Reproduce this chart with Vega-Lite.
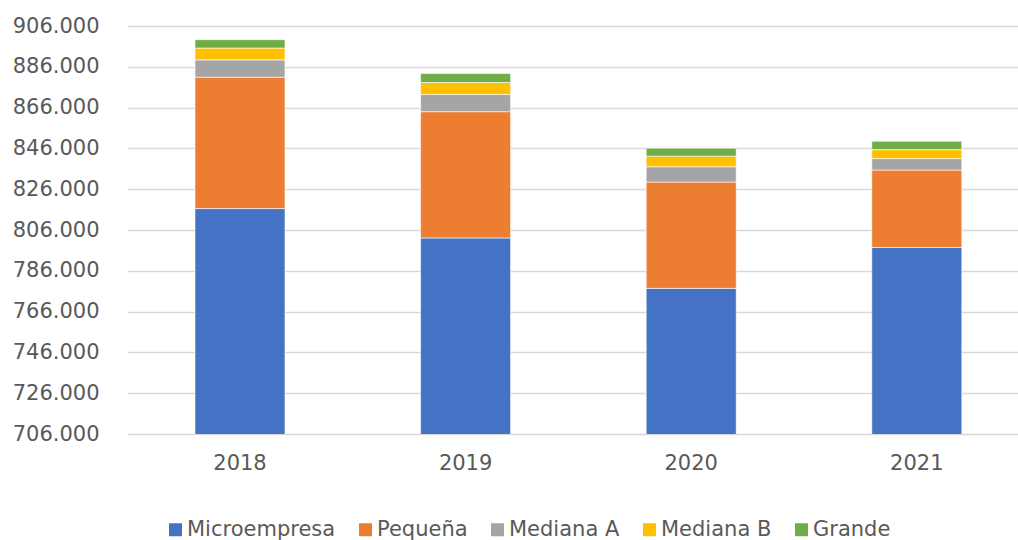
{
  "$schema": "https://vega.github.io/schema/vega-lite/v6.json",
  "width": 891,
  "height": 408,
  "autosize": {"type": "none"},
  "padding": {"left": 127, "top": 26, "right": 0, "bottom": 106},
  "background": "white",
  "config": {
    "locale": {"number": {"decimal": ",", "thousands": ".", "grouping": [3], "currency": ["$", ""]}},
    "view": {"stroke": null},
    "font": "DejaVu Sans"
  },
  "data": {
    "values": [
      {"year": "2018", "tipo": "Microempresa", "ord": 1, "valor": 816500},
      {"year": "2018", "tipo": "Pequeña", "ord": 2, "valor": 64400},
      {"year": "2018", "tipo": "Mediana A", "ord": 3, "valor": 8500},
      {"year": "2018", "tipo": "Mediana B", "ord": 4, "valor": 5800},
      {"year": "2018", "tipo": "Grande", "ord": 5, "valor": 4100},
      {"year": "2019", "tipo": "Microempresa", "ord": 1, "valor": 802100},
      {"year": "2019", "tipo": "Pequeña", "ord": 2, "valor": 61900},
      {"year": "2019", "tipo": "Mediana A", "ord": 3, "valor": 8400},
      {"year": "2019", "tipo": "Mediana B", "ord": 4, "valor": 5900},
      {"year": "2019", "tipo": "Grande", "ord": 5, "valor": 4400},
      {"year": "2020", "tipo": "Microempresa", "ord": 1, "valor": 777400},
      {"year": "2020", "tipo": "Pequeña", "ord": 2, "valor": 52100},
      {"year": "2020", "tipo": "Mediana A", "ord": 3, "valor": 7500},
      {"year": "2020", "tipo": "Mediana B", "ord": 4, "valor": 5200},
      {"year": "2020", "tipo": "Grande", "ord": 5, "valor": 3900},
      {"year": "2021", "tipo": "Microempresa", "ord": 1, "valor": 797400},
      {"year": "2021", "tipo": "Pequeña", "ord": 2, "valor": 38000},
      {"year": "2021", "tipo": "Mediana A", "ord": 3, "valor": 5600},
      {"year": "2021", "tipo": "Mediana B", "ord": 4, "valor": 4400},
      {"year": "2021", "tipo": "Grande", "ord": 5, "valor": 4100}
    ]
  },
  "mark": {"type": "bar", "clip": true, "stroke": "white", "strokeWidth": 0.6},
  "encoding": {
    "x": {
      "field": "year", "type": "nominal", "title": null,
      "scale": {"paddingInner": 0.601, "paddingOuter": 0.2752, "align": 0.5475},
      "axis": {"labelAngle": 0, "ticks": false, "domain": false, "labelFontSize": 21, "labelColor": "#595959", "labelPadding": 18, "labelFont": "DejaVu Sans"}
    },
    "y": {
      "field": "valor", "type": "quantitative", "title": null, "stack": "zero",
      "scale": {"domain": [706000, 906000], "zero": false, "nice": false},
      "axis": {
        "values": [706000, 726000, 746000, 766000, 786000, 806000, 826000, 846000, 866000, 886000, 906000],
        "format": ",.0f", "ticks": false, "domain": false,
        "labelFontSize": 21, "labelColor": "#595959", "labelPadding": 28,
        "gridColor": "#d9d9d9", "gridWidth": 1.5, "labelFont": "DejaVu Sans"
      }
    },
    "color": {
      "field": "tipo", "type": "nominal", "title": null,
      "sort": ["Microempresa", "Pequeña", "Mediana A", "Mediana B", "Grande"],
      "scale": {"domain": ["Microempresa", "Pequeña", "Mediana A", "Mediana B", "Grande"], "range": ["#4472C4", "#ED7D31", "#A5A5A5", "#FFC000", "#70AD47"]},
      "legend": {
        "orient": "none", "direction": "horizontal", "legendX": 38, "legendY": 493,
        "symbolType": "square", "symbolSize": 169, "symbolStrokeWidth": 0,
        "labelFontSize": 21, "labelColor": "#595959", "labelFont": "DejaVu Sans",
        "columnPadding": 19, "labelOffset": 1
      }
    },
    "order": {"field": "ord", "type": "quantitative"}
  }
}
